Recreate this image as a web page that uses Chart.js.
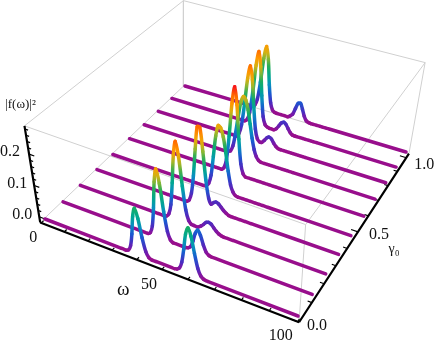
<!DOCTYPE html>
<html>
<head>
<meta charset="utf-8">
<style>
    html, body { margin: 0; padding: 0; background: #fff; }
    canvas { display: block; }
</style>
<script src="https://cdn.jsdelivr.net/npm/chart.js"></script>
</head>
<body>
<canvas id="chart" width="436" height="343"></canvas>
<script>
// values
const omega = [2, 32, 33, 34, 35, 36, 37, 38, 39, 40, 41, 42, 43, 44, 45, 46, 47, 48, 49, 50, 51, 52, 53, 54, 55, 56, 57, 58, 59, 60, 61, 62, 63, 64, 65, 66, 67, 68, 100];
const gammas = [0, 0.11, 0.22, 0.33, 0.44, 0.56, 0.67, 0.78, 0.89, 1];

const line0 = [0, 0, 0, 0, 0, 0, .004, .020, .060, .118, .147, .118, .060, .020, .004, 0, 0, 0, 0, 0, 0, 0, 0, 0, 0, .002, .009, .030, .073, .124, .147, .124, .073, .030, .009, .002, 0, 0, 0];
const line1 = [0, 0, 0, 0, 0, 0, 0, 0, .006, .030, .090, .176, .220, .176, .090, .030, .006, 0, 0, 0, 0, 0, 0, .002, .009, .029, .056, .070, .056, .029, .009, .002, 0, 0, 0, 0, 0, 0, 0];
const line2 = [0, 0, 0, 0, 0, 0, 0, 0, .002, .012, .044, .117, .209, .255, .209, .117, .044, .013, .004, .003, .002, .004, .010, .018, .027, .030, .027, .018, .010, .004, .001, 0, 0, 0, 0, 0, 0, 0, 0];
const line3 = [0, 0, 0, 0, 0, 0, 0, 0, 0, 0, 0, .007, .032, .090, .180, .255, .255, .180, .090, .035, .018, .026, .030, .027, .019, .011, .005, .001, 0, 0, 0, 0, 0, 0, 0, 0, 0, 0, 0];
const line4 = [0, 0, 0, 0, 0, 0, 0, 0, 0, 0, 0, 0, .003, .013, .042, .106, .175, .212, .207, .180, .132, .074, .032, .011, .002, 0, 0, 0, 0, 0, 0, 0, 0, 0, 0, 0, 0, 0, 0];
const line5 = [0, 0, 0, 0, 0, 0, 0, 0, 0, 0, 0, 0, 0, .008, .038, .117, .228, .285, .228, .117, .038, .008, 0, 0, 0, 0, 0, 0, 0, 0, 0, 0, 0, 0, 0, 0, 0, 0, 0];
const line6 = [0, 0, 0, 0, 0, 0, 0, 0, 0, .002, .006, .025, .070, .130, .180, .200, .190, .160, .115, .070, .035, .014, .004, 0, 0, 0, 0, 0, 0, 0, 0, 0, 0, 0, 0, 0, 0, 0, 0];
const line7 = [0, 0, 0, 0, 0, 0, 0, 0, .011, .043, .115, .205, .250, .205, .115, .043, .012, .004, .005, .014, .025, .030, .026, .015, .006, .001, 0, 0, 0, 0, 0, 0, 0, 0, 0, 0, 0, 0, 0];
const line8 = [0, 0, 0, 0, 0, 0, .007, .033, .103, .200, .250, .200, .103, .033, .008, .002, 0, 0, 0, .006, .018, .030, .035, .030, .018, .007, .001, 0, 0, 0, 0, 0, 0, 0, 0, 0, 0, 0, 0];
const line9 = [0, 0, 0, 0, .006, .029, .090, .176, .220, .176, .090, .030, .007, .001, 0, 0, 0, 0, 0, 0, .006, .014, .036, .056, .058, .040, .018, .005, .001, 0, 0, 0, 0, 0, 0, 0, 0, 0, 0];
const lines = [line0, line1, line2, line3, line4, line5, line6, line7, line8, line9];

// tick labels
const omegaLabels = [0, 50, 100];
const gammaLabels = [0, 0.5, 1];
const zLabels = [0, 0.1, 0.2];
const omegaTicks = [0, 10, 20, 30, 40, 50, 60, 70, 80, 90, 100];
const gammaTicks = [0, 0.1, 0.2, 0.3, 0.4, 0.5, 0.6, 0.7, 0.8, 0.9, 1];
const zTicks = [0, 0.02, 0.04, 0.06, 0.08, 0.1, 0.12, 0.14, 0.16, 0.18, 0.2, 0.22, 0.24, 0.26, 0.28];

// height colours of the rainbow
const colorZ = [0, .012, .03, .06, .09, .12, .15, .18, .20, .225, .255, .285];
const colorRgb = [[152, 14, 140], [122, 24, 168], [74, 44, 192], [26, 88, 208], [8, 144, 192], [0, 168, 144], [24, 172, 96], [144, 184, 48], [216, 176, 16], [255, 154, 0], [255, 106, 0], [248, 24, 24]];

function heightColor(z) {
    let i = 0;
    while (i < colorZ.length - 2 && z > colorZ[i + 1]) i++;
    const t = Math.min(1, Math.max(0, (z - colorZ[i]) / (colorZ[i + 1] - colorZ[i])));
    const c = colorRgb[i].map((v, k) => Math.round(v + (colorRgb[i + 1][k] - v) * t));
    return "rgb(" + c.join(",") + ")";
}

// plane through four picture corners, perspective correct
function quadMap(p0, p1, p2, p3) {
    const dx1 = p1[0] - p2[0], dx2 = p3[0] - p2[0], sx = p0[0] - p1[0] + p2[0] - p3[0];
    const dy1 = p1[1] - p2[1], dy2 = p3[1] - p2[1], sy = p0[1] - p1[1] + p2[1] - p3[1];
    const den = dx1 * dy2 - dx2 * dy1;
    const g = (sx * dy2 - dx2 * sy) / den;
    const h = (dx1 * sy - sx * dy1) / den;
    const a = p1[0] - p0[0] + g * p1[0], b = p3[0] - p0[0] + h * p3[0];
    const d = p1[1] - p0[1] + g * p1[1], e = p3[1] - p0[1] + h * p3[1];
    return (u, v) => {
        const w = g * u + h * v + 1;
        return [(a * u + b * v + p0[0]) / w, (d * u + e * v + p0[1]) / w];
    };
}

const floorMap = quadMap([45, 219], [298, 316], [406, 152], [185, 86]);
const topMap = quadMap([30.5, 128], [304, 224], [421, 66], [185, 5]);
const Z_TOP = 0.29;

function project(w, g, z) {
    const u = (w - 2) / 98;
    const a = floorMap(u, g), b = topMap(u, g);
    const t = z / Z_TOP;
    return { x: a[0] + (b[0] - a[0]) * t, y: a[1] + (b[1] - a[1]) * t };
}

// box limits
const W0 = -0.5, W1 = 100.5, G0 = 0, G1 = 1.03, Z0 = -0.018;

const gap = { x: NaN, y: NaN };
function edge(a, b) {
    return [project(a[0], a[1], a[2]), project(b[0], b[1], b[2]), gap];
}

const frameData = [].concat(
    edge([W0, G0, Z_TOP], [W0, G1, Z_TOP]),
    edge([W0, G1, Z_TOP], [W1, G1, Z_TOP]),
    edge([W1, G1, Z_TOP], [W1, G0, Z_TOP]),
    edge([W1, G0, Z_TOP], [W0, G0, Z_TOP]),
    edge([W0, G1, Z_TOP], [W0, G1, Z0]),
    edge([W1, G1, Z_TOP], [W1, G1, Z0]),
    edge([W1, G0, Z_TOP], [W1, G0, Z0]),
    edge([W0, G0, Z0], [W0, G1, Z0]),
    edge([W0, G1, Z0], [W1, G1, Z0])
);

const axisData = [].concat(
    edge([W0, G0, Z0], [W1, G0, Z0]),
    edge([W1, G0, Z0], [W1, G1, Z0]),
    edge([W0, G0, Z0], [W0, G0, Z_TOP])
);

const tickData = [];
omegaTicks.forEach((w) => {
    tickData.push(...edge([w, G0, Z0], [w, G0 + 0.014, Z0]));
});
gammaTicks.forEach((g) => {
    const len = gammaLabels.includes(g) ? 2.6 : 1.5;
    tickData.push(...edge([W1, g, Z0], [W1 - len, g, Z0]));
});
zTicks.forEach((z) => {
    const len = Math.round(z * 100) % 10 === 0 ? 2.2 : 1.3;
    tickData.push(...edge([W0, G0, z], [W0 + len, G0, z]));
});

const datasets = lines.map((values, k) => ({
    label: "gamma " + gammas[k],
    data: omega.map((w, i) => project(w, gammas[k], values[i])),
    borderColor: heightColor(0),
    borderWidth: 3.5,
    borderCapStyle: "round",
    borderJoinStyle: "round",
    tension: 0.3,
    pointRadius: 0,
    segment: {
        borderColor: (ctx) => {
            const z0 = values[ctx.p0DataIndex], z1 = values[ctx.p1DataIndex];
            if (z0 === 0 && z1 === 0) return heightColor(0);
            const grad = ctx.chart.ctx.createLinearGradient(ctx.p0.x, ctx.p0.y, ctx.p1.x, ctx.p1.y);
            for (let s = 0; s <= 4; s++) {
                grad.addColorStop(s / 4, heightColor(z0 + (z1 - z0) * s / 4));
            }
            return grad;
        },
    },
}));

datasets.push(
    { label: "axes", data: axisData, borderColor: "#000", borderWidth: 2.2, pointRadius: 0, spanGaps: false },
    { label: "ticks", data: tickData, borderColor: "#000", borderWidth: 1.2, pointRadius: 0, spanGaps: false },
    { label: "box", data: frameData, borderColor: "#d0d0d0", borderWidth: 1, pointRadius: 0, spanGaps: false }
);

// axis text goes through the scales as well
const axisText = {
    id: "axisText",
    afterDraw(chart) {
        const c = chart.ctx;
        const sx = chart.scales.x, sy = chart.scales.y;
        const put = (text, p, dx, dy, size) => {
            c.font = (size || 16) + 'px "Liberation Serif"';
            c.fillText(text, sx.getPixelForValue(p.x) + dx, sy.getPixelForValue(p.y) + dy);
        };
        c.save();
        c.fillStyle = "#111";
        c.textAlign = "center";
        c.textBaseline = "middle";
        omegaLabels.forEach((w, i) => {
            put(String(w), project(w, G0, Z0), [-8, -13, -17][i], [15, 15, 14][i]);
        });
        gammaLabels.forEach((g, i) => {
            put(g.toFixed(1), project(W1, g, Z0), [18, 21, 18][i], [4, 3, 7][i]);
        });
        zLabels.forEach((z, i) => {
            put(z.toFixed(1), project(W0, G0, z), [-17, -17, -19][i], -2);
        });
        put("ω", project(W0, G0, Z0), 83, 68, 19);
        put("γ₀", project(W1, 0.5, Z0), 36, 18, 14);
        put("|f(ω)|²", project(W0, G0, Z_TOP), -4, -21, 13);
        c.restore();
    },
};

new Chart(document.getElementById("chart"), {
    type: "line",
    data: { datasets: datasets },
    plugins: [axisText],
    options: {
        responsive: false,
        animation: false,
        parsing: false,
        normalized: true,
        layout: { padding: 0 },
        plugins: { legend: { display: false }, tooltip: { enabled: false } },
        scales: {
            x: { type: "linear", display: false, min: 0, max: 436 },
            y: { type: "linear", display: false, min: 0, max: 343, reverse: true },
        },
    },
});
</script>
</body>
</html>
